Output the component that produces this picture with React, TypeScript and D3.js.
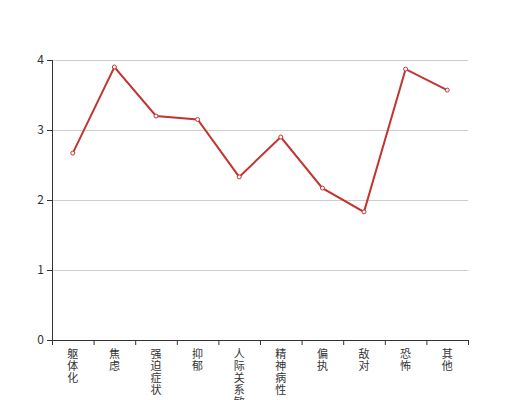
import React from "react";
import * as d3 from "d3";

const categories = ["躯体化", "焦虑", "强迫症状", "抑郁", "人际关系敏感", "精神病性", "偏执", "敌对", "恐怖", "其他"];
const values = [2.67, 3.9, 3.2, 3.15, 2.33, 2.9, 2.17, 1.83, 3.87, 3.57];
const yTicks = [0, 1, 2, 3, 4];

const W = 520, H = 400;
const left = 52, right = 468, top = 60, bottom = 340;

export default function App() {
  const x = d3.scaleBand<string>().domain(categories).range([left, right]).padding(0);
  const y = d3.scaleLinear().domain([0, 4]).range([bottom, top]);
  const cx = (c: string) => (x(c) as number) + x.bandwidth() / 2;
  const line = d3.line<number>().x((_, i) => cx(categories[i])).y((d) => y(d));
  const boundaries = d3.range(categories.length + 1).map((i) => left + i * x.bandwidth());
  const font = "'Noto Sans CJK SC', 'Noto Sans', sans-serif";
  return (
    <svg width={W} height={H} style={{ position: "absolute", left: 0, top: 0 }}>
      {yTicks.map((t) => (
        <g key={t}>
          {t !== 0 && <line x1={left} x2={right} y1={y(t) + 0.5} y2={y(t) + 0.5} stroke="#ccc" strokeWidth={1} />}
          <line x1={left - 5} x2={left} y1={y(t) + 0.5} y2={y(t) + 0.5} stroke="#333" />
          <text x={left - 8} y={y(t)} dy="0.35em" textAnchor="end" fontSize={12} fill="#333" fontFamily={font}>{t}</text>
        </g>
      ))}
      <line x1={left + 0.5} x2={left + 0.5} y1={top} y2={bottom} stroke="#333" />
      <line x1={left} x2={right} y1={bottom + 0.5} y2={bottom + 0.5} stroke="#333" />
      {boundaries.map((b, i) => (
        <line key={i} x1={b + 0.5} x2={b + 0.5} y1={bottom} y2={bottom + 5} stroke="#333" />
      ))}
      {categories.map((c) => (
        <text key={c} x={cx(c)} y={bottom + 8} textAnchor="middle" fontSize={11} fill="#333" fontFamily={font}>
          {Array.from(c).map((ch, i) => (
            <tspan key={i} x={cx(c)} y={bottom + 8 + 10 + i * 12}>{ch}</tspan>
          ))}
        </text>
      ))}
      <path d={line(values) || ""} fill="none" stroke="#c23531" strokeWidth={2} />
      {values.map((v, i) => (
        <circle key={i} cx={cx(categories[i])} cy={y(v)} r={2} fill="#fff" stroke="#c23531" strokeWidth={1} />
      ))}
    </svg>
  );
}
